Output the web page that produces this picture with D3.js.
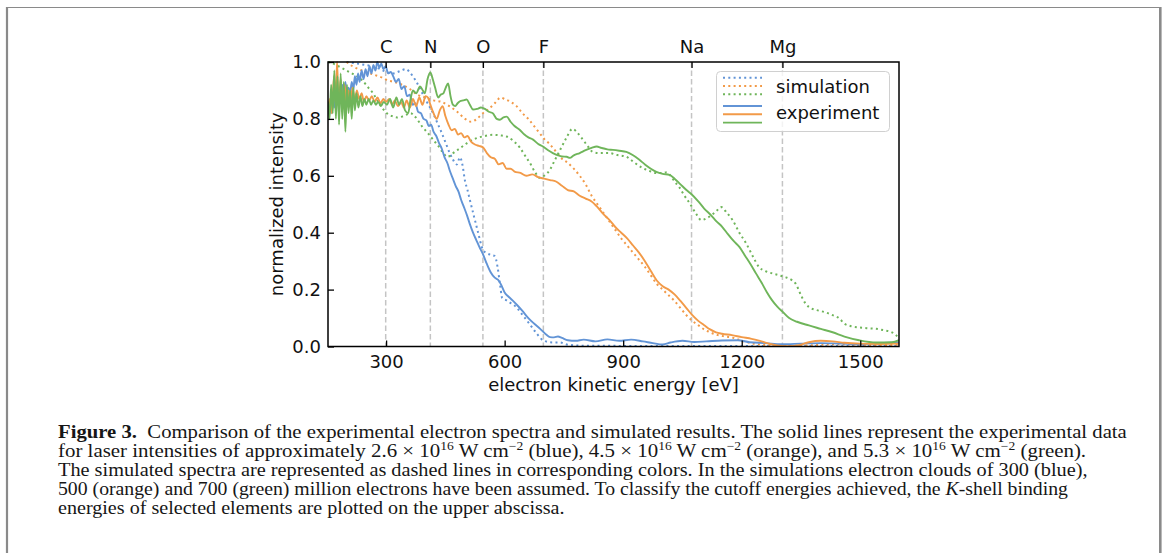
<!DOCTYPE html>
<html><head><meta charset="utf-8">
<script src="https://cdn.jsdelivr.net/npm/d3@7"></script>
<style>body{margin:0;background:#fff} svg{display:block}</style>
</head><body><svg id="c" width="1165" height="553"></svg>
<script>
// ---------- data ----------
const elements = ["C","N","O","F","Na","Mg"];
const edgeEnergies = [299,412,545,698,1073,1303];
const xTicks = [300,600,900,1200,1500];
const yTicks = [0,0.2,0.4,0.6,0.8,1.0];
const seriesColors = ["#6294d6","#f29a48","#6fb55a"];
const legendLabels = ["simulation","experiment"];

const expBlue = [[153,0.83],[157,0.86],[161,0.82],[165,0.88],[169,0.84],[173,0.90],[177,0.85],[181,0.91],[185,0.86],[189,0.92],[193,0.87],[197,0.93],[201,0.88],[205,0.91],[209,0.89],[213,0.93],[217,0.90],[221,0.95],[225,0.92],[229,0.96],[233,0.93],[238,0.97],[243,0.94],[248,0.975],[253,0.95],[258,0.985],[263,0.96],[268,0.99],[273,0.97],[278,1.0],[283,0.98],[288,0.995],[293,0.975],[299,0.985],[305,0.96],[312,0.965],[318,0.95],[325,0.93],[332,0.94],[339,0.905],[346,0.915],[353,0.88],[360,0.885],[367,0.85],[374,0.855],[381,0.825],[388,0.82],[395,0.80],[402,0.795],[408,0.775],[414,0.78],[420,0.755],[427,0.74],[434,0.715],[441,0.695],[448,0.665],[455,0.645],[462,0.615],[469,0.59],[476,0.565],[483,0.545],[490,0.515],[497,0.49],[505,0.46],[512,0.43],[520,0.40],[528,0.375],[536,0.35],[545,0.325],[555,0.29],[565,0.26],[575,0.242],[583,0.235],[590,0.22],[600,0.19],[610,0.175],[620,0.162],[632,0.145],[645,0.125],[660,0.10],[675,0.08],[690,0.062],[705,0.042],[715,0.033],[725,0.032],[735,0.035],[745,0.03],[760,0.022],[780,0.02],[800,0.024],[830,0.018],[860,0.025],[890,0.02],[920,0.024],[950,0.018],[975,0.012],[1000,0.007],[1020,0.014],[1050,0.02],[1080,0.016],[1110,0.018],[1150,0.021],[1190,0.022],[1220,0.015],[1260,0.012],[1300,0.008],[1350,0.01],[1400,0.012],[1450,0.01],[1500,0.008],[1550,0.012],[1598,0.014]];

const expOrange = [[153,0.84],[158,0.87],[163,0.82],[168,0.95],[172,0.86],[176,1.0],[180,0.84],[185,0.94],[190,0.83],[195,0.92],[200,0.84],[205,0.90],[210,0.85],[215,0.91],[220,0.86],[226,0.90],[232,0.87],[238,0.89],[244,0.86],[250,0.88],[257,0.865],[264,0.88],[271,0.86],[278,0.875],[286,0.855],[293,0.87],[300,0.86],[308,0.87],[315,0.85],[322,0.865],[330,0.845],[338,0.86],[345,0.84],[352,0.865],[360,0.84],[368,0.87],[376,0.845],[384,0.875],[392,0.85],[400,0.88],[406,0.875],[412,0.85],[420,0.82],[428,0.80],[436,0.83],[443,0.845],[450,0.81],[458,0.78],[466,0.76],[474,0.765],[482,0.745],[490,0.75],[498,0.735],[506,0.74],[515,0.72],[525,0.71],[535,0.705],[545,0.70],[555,0.68],[565,0.665],[575,0.66],[585,0.64],[595,0.645],[605,0.625],[615,0.625],[625,0.615],[640,0.61],[655,0.60],[670,0.605],[685,0.595],[700,0.59],[715,0.585],[730,0.58],[745,0.565],[760,0.55],[775,0.545],[790,0.53],[805,0.52],[820,0.51],[835,0.49],[850,0.465],[865,0.445],[880,0.42],[895,0.40],[910,0.38],[925,0.355],[940,0.33],[955,0.30],[970,0.265],[985,0.232],[1000,0.212],[1015,0.20],[1030,0.183],[1045,0.16],[1060,0.135],[1075,0.11],[1090,0.09],[1105,0.075],[1120,0.06],[1135,0.05],[1150,0.045],[1175,0.04],[1200,0.033],[1225,0.027],[1250,0.018],[1275,0.008],[1300,0.002],[1320,0.001],[1345,0.005],[1370,0.015],[1400,0.02],[1430,0.018],[1460,0.013],[1500,0.01],[1550,0.009],[1598,0.01]];

const expGreen = [[153,0.86],[157,0.80],[161,0.92],[165,0.82],[169,0.97],[173,0.80],[177,0.95],[181,0.78],[185,0.96],[189,0.80],[193,0.93],[197,0.755],[201,0.92],[205,0.82],[209,0.90],[213,0.80],[217,0.91],[221,0.83],[225,0.89],[230,0.84],[235,0.88],[240,0.845],[245,0.87],[250,0.85],[256,0.87],[262,0.85],[268,0.865],[274,0.85],[280,0.86],[287,0.845],[294,0.86],[302,0.85],[310,0.87],[318,0.84],[326,0.875],[333,0.85],[340,0.87],[348,0.83],[356,0.82],[362,0.87],[368,0.90],[376,0.89],[386,0.914],[393,0.90],[398,0.89],[405,0.94],[412,0.963],[418,0.94],[424,0.91],[432,0.875],[438,0.885],[445,0.89],[451,0.91],[457,0.925],[463,0.88],[469,0.85],[475,0.845],[481,0.855],[487,0.862],[495,0.865],[504,0.868],[512,0.85],[520,0.833],[530,0.835],[540,0.84],[550,0.835],[560,0.825],[570,0.82],[580,0.80],[588,0.797],[597,0.805],[605,0.808],[615,0.79],[625,0.775],[638,0.762],[650,0.745],[660,0.735],[672,0.727],[685,0.712],[697,0.703],[710,0.69],[722,0.68],[735,0.672],[745,0.668],[757,0.667],[765,0.663],[775,0.672],[790,0.68],[805,0.69],[820,0.698],[833,0.703],[845,0.698],[860,0.693],[874,0.691],[890,0.688],[908,0.684],[925,0.672],[941,0.656],[955,0.64],[970,0.625],[984,0.614],[1000,0.607],[1017,0.603],[1030,0.59],[1045,0.57],[1060,0.55],[1073,0.535],[1090,0.51],[1105,0.485],[1122,0.462],[1136,0.44],[1151,0.42],[1165,0.395],[1180,0.37],[1194,0.35],[1208,0.32],[1222,0.29],[1236,0.257],[1250,0.225],[1264,0.19],[1277,0.162],[1290,0.14],[1305,0.12],[1320,0.10],[1340,0.087],[1370,0.074],[1400,0.062],[1430,0.05],[1460,0.035],[1497,0.022],[1540,0.014],[1580,0.015],[1598,0.022]];

const simBlue = [[200,1.0],[225,0.995],[245,0.99],[265,0.985],[285,0.975],[300,0.965],[318,0.96],[335,0.968],[350,0.975],[362,0.96],[378,0.927],[390,0.895],[403,0.86],[419,0.82],[430,0.785],[441,0.75],[451,0.715],[461,0.68],[470,0.655],[479,0.64],[487,0.665],[493,0.64],[500,0.58],[506,0.55],[512,0.515],[522,0.46],[533,0.40],[545,0.34],[555,0.328],[565,0.322],[575,0.318],[582,0.28],[588,0.222],[594,0.17],[605,0.162],[618,0.15],[630,0.138],[643,0.115],[656,0.092],[668,0.07],[681,0.046],[698,0.021],[722,0.014],[740,0.014],[757,0.007],[780,0.004],[800,0.003],[850,0.003],[900,0.002],[1000,0.002],[1100,0.002],[1200,0.002],[1300,0.002],[1400,0.002],[1500,0.002],[1598,0.002]];

const simOrange = [[200,1.0],[215,0.985],[230,0.975],[250,0.965],[270,0.955],[290,0.945],[305,0.935],[320,0.93],[340,0.92],[360,0.905],[380,0.885],[400,0.875],[420,0.865],[440,0.86],[460,0.845],[480,0.825],[500,0.80],[515,0.79],[530,0.80],[545,0.82],[560,0.835],[575,0.855],[590,0.875],[600,0.87],[615,0.86],[630,0.845],[645,0.82],[660,0.80],[680,0.765],[700,0.73],[715,0.71],[730,0.685],[745,0.66],[760,0.645],[775,0.625],[790,0.60],[805,0.57],[820,0.53],[835,0.50],[850,0.47],[865,0.44],[880,0.41],[895,0.38],[910,0.355],[925,0.33],[940,0.305],[955,0.28],[970,0.25],[985,0.22],[1000,0.20],[1015,0.18],[1030,0.16],[1045,0.135],[1060,0.11],[1075,0.09],[1090,0.075],[1105,0.06],[1120,0.05],[1140,0.04],[1160,0.035],[1180,0.03],[1200,0.02],[1230,0.01],[1260,0.005],[1300,0.002],[1350,0.003],[1400,0.006],[1450,0.008],[1500,0.006],[1550,0.005],[1598,0.006]];

const simGreen = [[153,1.0],[165,0.995],[180,0.985],[200,0.97],[220,0.955],[240,0.935],[255,0.91],[267,0.89],[280,0.86],[292,0.835],[302,0.82],[315,0.81],[328,0.805],[340,0.808],[352,0.815],[362,0.82],[372,0.81],[383,0.79],[393,0.77],[406,0.75],[419,0.727],[432,0.705],[445,0.68],[454,0.667],[462,0.67],[470,0.68],[480,0.69],[490,0.70],[505,0.715],[520,0.727],[535,0.735],[550,0.74],[570,0.744],[590,0.742],[605,0.738],[620,0.725],[638,0.70],[652,0.67],[664,0.645],[676,0.615],[689,0.593],[700,0.60],[714,0.62],[727,0.655],[740,0.69],[755,0.73],[772,0.765],[785,0.75],[798,0.727],[810,0.705],[823,0.684],[840,0.68],[864,0.68],[885,0.673],[908,0.667],[925,0.65],[948,0.628],[965,0.618],[983,0.61],[995,0.61],[1008,0.612],[1020,0.60],[1030,0.58],[1042,0.56],[1055,0.53],[1068,0.504],[1083,0.47],[1098,0.444],[1110,0.45],[1122,0.46],[1135,0.475],[1148,0.49],[1162,0.47],[1177,0.444],[1194,0.40],[1211,0.363],[1227,0.32],[1244,0.279],[1260,0.265],[1277,0.257],[1295,0.25],[1312,0.243],[1325,0.235],[1336,0.222],[1350,0.18],[1362,0.15],[1375,0.135],[1390,0.128],[1412,0.12],[1430,0.11],[1446,0.10],[1460,0.08],[1475,0.072],[1497,0.067],[1520,0.064],[1540,0.062],[1560,0.057],[1580,0.05],[1598,0.03]];

const simSeries = [simBlue, simOrange, simGreen];
const expSeries = [expBlue, expOrange, expGreen];

// ---------- layout ----------
const svg = d3.select("#c");
const L = 328, R = 899, T = 62, B = 346.5;
const x = d3.scaleLinear().domain([153, 1598]).range([L, R]);
const y = d3.scaleLinear().domain([0, 1]).range([B, T]);
const font = "'DejaVu Sans', sans-serif";

// outer frame
svg.append("line").attr("x1",6).attr("x2",1161).attr("y1",7.5).attr("y2",7.5).attr("stroke","#8a8a8a").attr("stroke-width",1);
svg.append("line").attr("x1",7).attr("x2",7).attr("y1",7).attr("y2",553).attr("stroke","#8a8a8a").attr("stroke-width",2.2);
svg.append("line").attr("x1",1160.3).attr("x2",1160.3).attr("y1",7).attr("y2",553).attr("stroke","#8a8a8a").attr("stroke-width",2.6);

svg.append("clipPath").attr("id","clip").append("rect").attr("x",L).attr("y",T-2).attr("width",R-L).attr("height",B-T+2);

// element edges
svg.append("g").selectAll("line").data(edgeEnergies).join("line")
  .attr("x1",d=>x(d)).attr("x2",d=>x(d)).attr("y1",T).attr("y2",B)
  .attr("stroke","#c4c4c4").attr("stroke-width",1.5).attr("stroke-dasharray","5.5,3");

const line = d3.line().x(d=>x(d[0])).y(d=>y(d[1])).curve(d3.curveMonotoneX);
const plot = svg.append("g").attr("clip-path","url(#clip)");
simSeries.forEach((s,i)=>{
  plot.append("path").datum(s).attr("d",line).attr("fill","none")
    .attr("stroke",seriesColors[i]).attr("stroke-width",2).attr("stroke-dasharray","2,3.3");
});
expSeries.forEach((s,i)=>{
  plot.append("path").datum(s).attr("d",line).attr("fill","none")
    .attr("stroke",seriesColors[i]).attr("stroke-width",1.9).attr("stroke-linejoin","round");
});

// axes
const xAxis = svg.append("g").attr("transform",`translate(0,${B})`)
  .call(d3.axisBottom(x).tickValues(xTicks).tickSizeInner(-6).tickSizeOuter(0).tickPadding(9).tickFormat(d3.format("d")));
const yAxis = svg.append("g").attr("transform",`translate(${L},0)`)
  .call(d3.axisLeft(y).tickValues(yTicks).tickSizeInner(-6).tickSizeOuter(0).tickPadding(7).tickFormat(d3.format(".1f")));
const topAxis = svg.append("g").attr("transform",`translate(0,${T})`)
  .call(d3.axisTop(x).tickValues(edgeEnergies).tickSizeInner(-6).tickSizeOuter(0).tickPadding(9).tickFormat((d,i)=>elements[i]));
[xAxis,yAxis,topAxis].forEach(g=>{
  g.select(".domain").remove();
  g.selectAll("line").attr("stroke","#000").attr("stroke-width",1.3);
  g.selectAll("text").attr("font-family",font).attr("font-size",18).attr("fill","#111");
});
svg.append("rect").attr("x",L).attr("y",T).attr("width",R-L).attr("height",B-T)
  .attr("fill","none").attr("stroke","#000").attr("stroke-width",1.5);

svg.append("text").attr("x",(L+R)/2).attr("y",391).attr("text-anchor","middle")
  .attr("font-family",font).attr("font-size",18).attr("fill","#111").text("electron kinetic energy [eV]");
svg.append("text").attr("transform",`translate(283,${(T+B)/2}) rotate(-90)`).attr("text-anchor","middle")
  .attr("font-family",font).attr("font-size",18).attr("fill","#111").text("normalized intensity");

// legend
const lg = svg.append("g");
lg.append("rect").attr("x",716.5).attr("y",71.5).attr("width",173).attr("height",60).attr("rx",4)
  .attr("fill","#fff").attr("fill-opacity",0.8).attr("stroke","#d0d0d0").attr("stroke-width",1);
seriesColors.forEach((c,i)=>{
  lg.append("line").attr("x1",723).attr("x2",762).attr("y1",77.7+8.3*i).attr("y2",77.7+8.3*i)
    .attr("stroke",c).attr("stroke-width",2).attr("stroke-dasharray","2,3.3");
  lg.append("line").attr("x1",723).attr("x2",762).attr("y1",106+8.3*i).attr("y2",106+8.3*i)
    .attr("stroke",c).attr("stroke-width",1.9);
});
lg.selectAll("text").data(legendLabels).join("text").attr("x",776).attr("y",(d,i)=>i?119:93)
  .attr("font-family",font).attr("font-size",18).attr("fill","#111").text(d=>d);

// caption
const serif = "'Liberation Serif', 'DejaVu Serif', serif";
const cap = svg.append("g").attr("font-family",serif).attr("font-size",18.5).attr("fill","#161616");
const captionLines = [
  {y:437.5, len:1070, parts:[{t:"Figure 3.",b:1},{t:"\u2002Comparison of the experimental electron spectra and simulated results. The solid lines represent the experimental data"}]},
  {y:456.5, len:1029, parts:[{t:"for laser intensities of approximately 2.6 \u00d7 10"},{t:"16",s:1},{t:" W cm"},{t:"\u22122",s:1},{t:" (blue), 4.5 \u00d7 10"},{t:"16",s:1},{t:" W cm"},{t:"\u22122",s:1},{t:" (orange), and 5.3 \u00d7 10"},{t:"16",s:1},{t:" W cm"},{t:"\u22122",s:1},{t:" (green)."}]},
  {y:475.5, len:1030, parts:[{t:"The simulated spectra are represented as dashed lines in corresponding colors. In the simulations electron clouds of 300 (blue),"}]},
  {y:494.5, len:1011, parts:[{t:"500 (orange) and 700 (green) million electrons have been assumed. To classify the cutoff energies achieved, the "},{t:"K",i:1},{t:"-shell binding"}]},
  {y:513.5, len:507, parts:[{t:"energies of selected elements are plotted on the upper abscissa."}]}
];
captionLines.forEach(ln=>{
  const g = cap.append("g");
  const t = g.append("text").attr("x",0).attr("y",0);
  let prevSup = false;
  ln.parts.forEach(p=>{
    const ts = t.append("tspan").text(p.t);
    if (p.b) ts.attr("font-weight","bold");
    if (p.i) ts.attr("font-style","italic");
    if (p.s) { ts.attr("dy",-6.5).attr("font-size",12); prevSup = true; }
    else if (prevSup) { ts.attr("dy",6.5); prevSup = false; }
  });
  const w = t.node().getBBox().width;
  g.attr("transform",`translate(58,${ln.y}) scale(${ln.len / w},1)`);
});
</script></body></html>
